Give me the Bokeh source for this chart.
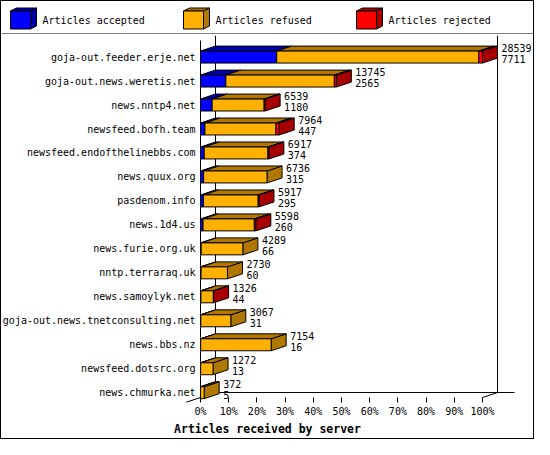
from bokeh.plotting import figure
from bokeh.layouts import column
from bokeh.models import Range1d, FixedTicker, PrintfTickFormatter, ColumnDataSource
from bokeh.core.properties import value
from bokeh.embed import file_html
from bokeh.resources import INLINE

# ---------------- data ----------------
hosts = [
    "goja-out.feeder.erje.net",
    "goja-out.news.weretis.net",
    "news.nntp4.net",
    "newsfeed.bofh.team",
    "newsfeed.endofthelinebbs.com",
    "news.quux.org",
    "pasdenom.info",
    "news.1d4.us",
    "news.furie.org.uk",
    "nntp.terraraq.uk",
    "news.samoylyk.net",
    "goja-out.news.tnetconsulting.net",
    "news.bbs.nz",
    "newsfeed.dotsrc.org",
    "news.chmurka.net",
]
totals = [28539, 13745, 6539, 7964, 6917, 6736, 5917, 5598, 4289, 2730, 1326, 3067, 7154, 1272, 372]
accepted = [7711, 2565, 1180, 447, 374, 315, 295, 260, 66, 60, 44, 31, 16, 13, 5]
rejected = [385, 200, 100, 330, 90, 0, 80, 150, 0, 0, 20, 0, 0, 0, 0]
series_names = ["Articles accepted", "Articles refused", "Articles rejected"]
x_ticks = [0, 10, 20, 30, 40, 50, 60, 70, 80, 90, 100]
x_title = "Articles received by server"

FRONT = ["#0000FF", "#FFB000", "#FF0000"]
DARK = ["#0000A8", "#B07800", "#A80000"]
MONO = value("DejaVu Sans Mono")

# ---------------- geometry (styles) ----------------
FIG_W = 532
TOTAL_H = 437
LEG_H = 33
TOP_B, BOT_B = 1, 35
MAIN_H = TOTAL_H - LEG_H
FRAME_H = MAIN_H - TOP_B - BOT_B
ZERO_PX = 199.0                # frame pixel of 0 %
PLOT_PX = 282.0                # pixels for 0..100 %
PX = 100.0 / PLOT_PX           # data units per pixel in x
X0 = -ZERO_PX * PX
X1 = X0 + FIG_W * PX
Y_TOP = -0.9
FLOOR = 14.2
ROW_PX = (FRAME_H - 5) / (FLOOR - Y_TOP)
Y_BOT = FLOOR + 5 / ROW_PX
DX = 15 * PX
DY = 5 / ROW_PX
HALF = 6 / ROW_PX

p = figure(width=FIG_W, height=MAIN_H, x_range=Range1d(X0, X1),
           y_range=Range1d(Y_BOT, Y_TOP), toolbar_location=None, output_backend="svg",
           y_axis_location=None, min_border_left=0, min_border_right=0,
           min_border_top=TOP_B, min_border_bottom=BOT_B)
p.outline_line_color = None
p.grid.visible = False
p.background_fill_color = "white"
p.border_fill_color = "white"

# walls of the 3D box
xmax = x_ticks[-1]
back_floor = FLOOR - DY
p.segment(x0=[0, DX, xmax + DX, DX, xmax, -DX],
          y0=[Y_TOP + DY, Y_TOP, Y_TOP, back_floor, FLOOR, FLOOR + DY],
          x1=[0, DX, xmax + DX, xmax + DX + 17 * PX, xmax + DX, DX],
          y1=[FLOOR, back_floor, back_floor, back_floor, back_floor, back_floor],
          line_color="black", line_width=1)

tmax = max(totals)
fq = dict(left=[], right=[], top=[], bottom=[], color=[])
tp = dict(xs=[], ys=[], color=[])
sd = dict(xs=[], ys=[], color=[])
lab = dict(x=[], y=[], t1=[], t2=[])
for i, (t, a, r) in enumerate(zip(totals, accepted, rejected)):
    L = t / tmax * xmax
    parts = [a, t - a - r, r]
    yt, yb = i - HALF, i + HALF
    x = 0.0
    last = 0
    for k, v in enumerate(parts):
        if v <= 0:
            continue
        w = v / t * L
        fq["left"].append(x); fq["right"].append(x + w)
        fq["top"].append(yt); fq["bottom"].append(yb)
        fq["color"].append(FRONT[k])
        tp["xs"].append([x, x + w, x + w + DX, x + DX])
        tp["ys"].append([yt, yt, yt - DY, yt - DY])
        tp["color"].append(DARK[k])
        x += w
        last = k
    sd["xs"].append([L, L + DX, L + DX, L])
    sd["ys"].append([yt, yt - DY, yb - DY, yb])
    sd["color"].append(DARK[last])
    lab["x"].append(L + DX); lab["y"].append(i)
    lab["t1"].append(str(t)); lab["t2"].append(str(a))

p.patches("xs", "ys", source=ColumnDataSource(sd), fill_color="color", line_color="black", line_width=1)
p.patches("xs", "ys", source=ColumnDataSource(tp), fill_color="color", line_color="black", line_width=1)
p.quad(left="left", right="right", top="top", bottom="bottom", source=ColumnDataSource(fq),
       fill_color="color", line_color="black", line_width=1)
ls = ColumnDataSource(lab)
p.text(x="x", y="y", text="t1", source=ls, x_offset=4, y_offset=-9, text_font=MONO,
       text_font_size="10px", text_baseline="middle", text_color="black")
p.text(x="x", y="y", text="t2", source=ls, x_offset=4, y_offset=2, text_font=MONO,
       text_font_size="10px", text_baseline="middle", text_color="black")

# category labels, placed through the y scale
p.text(x=[0] * len(hosts), y=list(range(len(hosts))), text=hosts, x_offset=-5, text_font=MONO,
       text_font_size="10px", text_align="right", text_baseline="middle", text_color="black")

# x axis
p.xaxis.ticker = FixedTicker(ticks=x_ticks, minor_ticks=[])
p.xaxis.formatter = PrintfTickFormatter(format="%d%%")
p.xaxis.axis_line_color = None
p.xaxis.major_tick_out = 0
p.xaxis.major_tick_in = 5
p.xaxis.major_tick_line_color = "black"
p.xaxis.major_label_standoff = 3
p.xaxis.major_label_text_font = "DejaVu Sans Mono"
p.xaxis.major_label_text_font_size = "10px"
p.xaxis.major_label_text_color = "black"
p.xaxis.axis_label = x_title
p.xaxis.axis_label_standoff = 2
p.xaxis.axis_label_text_font = "DejaVu Sans Mono"
p.xaxis.axis_label_text_font_size = "11.5px"
p.xaxis.axis_label_text_font_style = "bold"
p.xaxis.axis_label_text_color = "black"

# ---------------- legend strip ----------------
leg = figure(width=FIG_W, height=LEG_H, x_range=Range1d(0, FIG_W), y_range=Range1d(LEG_H, 0),
             toolbar_location=None, output_backend="svg", min_border=0,
             x_axis_location=None, y_axis_location=None)
leg.grid.visible = False
leg.outline_line_color = None
lx = [9 + 173 * k for k in range(len(series_names))]
ly0, ly1 = 9.5, 27.5
leg.patches(xs=[[x + 20, x + 26, x + 26, x + 20] for x in lx],
            ys=[[ly0, ly0 - 3, ly1 - 3, ly1] for _ in lx],
            fill_color=DARK, line_color="black")
leg.patches(xs=[[x, x + 20, x + 26, x + 6] for x in lx],
            ys=[[ly0, ly0, ly0 - 3, ly0 - 3] for _ in lx],
            fill_color=DARK, line_color="black")
leg.quad(left=lx, right=[x + 20 for x in lx], top=[ly0] * 3, bottom=[ly1] * 3,
         fill_color=FRONT, line_color="black")
leg.text(x=[x + 32 for x in lx], y=[18.5] * 3, text=series_names, text_font=MONO,
         text_font_size="10px", text_baseline="middle", text_color="black")
leg.segment(x0=[0], y0=[LEG_H - 0.5], x1=[FIG_W], y1=[LEG_H - 0.5], line_color="black")

layout = column(leg, p, spacing=0, styles={"border": "1px solid black"})
open("out.html", "w").write(file_html(layout, INLINE))
